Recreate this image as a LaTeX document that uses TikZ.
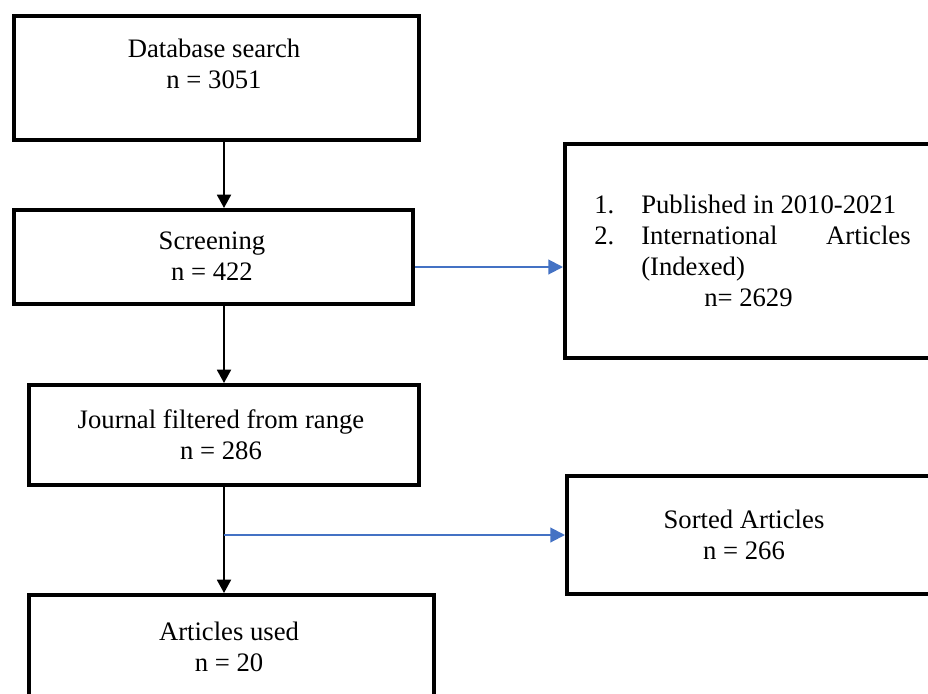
\documentclass[tikz,border=0pt]{standalone}
\usepackage{fontspec}
\setmainfont{Liberation Serif}
\usetikzlibrary{arrows.meta}
\definecolor{arrblue}{RGB}{68,114,196}
\tikzset{
  box/.style={draw=black, line width=3pt, fill=white, inner sep=0pt},
  txt/.style={font=\fontsize{20pt}{23.25pt}\selectfont, align=center, inner sep=0pt},
  ltxt/.style={font=\fontsize{20pt}{23.25pt}\selectfont, inner sep=0pt, anchor=base west},
  blackarr/.style={draw=black, line width=1.4pt, -{Triangle[length=10pt,width=10.5pt]}},
  bluearr/.style={draw=arrblue, line width=1.5pt, -{Triangle[length=11pt,width=11pt]}}
}
\begin{document}
\begin{tikzpicture}[x=0.75pt,y=-0.75pt]
\useasboundingbox (0,0) rectangle (928,693);
\clip (0,0) rectangle (928,693);
% boxes
\node[box, minimum width=303.75pt, minimum height=93pt] (b1) at (216.5,78) {};
\node[box, minimum width=299.25pt, minimum height=70.5pt] (b2) at (213.5,257) {};
\node[box, minimum width=292.5pt, minimum height=75pt] (b3) at (224,435) {};
\node[box, minimum width=303.75pt, minimum height=93.75pt] (b4) at (231.5,657.5) {};
\node[box, minimum width=285pt, minimum height=160.5pt] (r1) at (755,251) {};
\node[box, minimum width=283.5pt, minimum height=88.5pt] (r2) at (756,535) {};
% texts
\node[txt] (t1) at (214,64) {Database search\\n = 3051};
\node[txt] (t2) at (212,256) {Screening\\n = 422};
\node[txt] (t3) at (221,434.5) {Journal filtered from range\\n = 286};
\node[txt] (t5) at (744,534.5) {Sorted Articles\\n = 266};
\node[txt] (t4) at (229,646.5) {Articles used\\n = 20};
\node[ltxt] (l1n) at (594,213) {1.};
\node[ltxt] (l1) at (641,213) {Published in 2010-2021};
\node[ltxt] (l2n) at (594,244) {2.};
\node[ltxt] (l2) at (641,244) {\makebox[202pt][s]{International\hfill Articles}};
\node[ltxt] (l3) at (641,275) {(Indexed)};
\node[ltxt] (l4) at (704,306) {n= 2629};
% connectors
\coordinate (ax) at (224,0);
\coordinate (by) at (0,267);
\draw[blackarr] (b1.south -| ax) -- (b2.north -| ax);
\draw[blackarr] (b2.south -| ax) -- (b3.north -| ax);
\draw[blackarr] (b3.south -| ax) -- (b4.north -| ax);
\draw[bluearr] (b2.east |- by) -- (r1.west |- by);
\draw[bluearr] (r2.west -| ax) -- (r2.west);
\end{tikzpicture}
\end{document}
